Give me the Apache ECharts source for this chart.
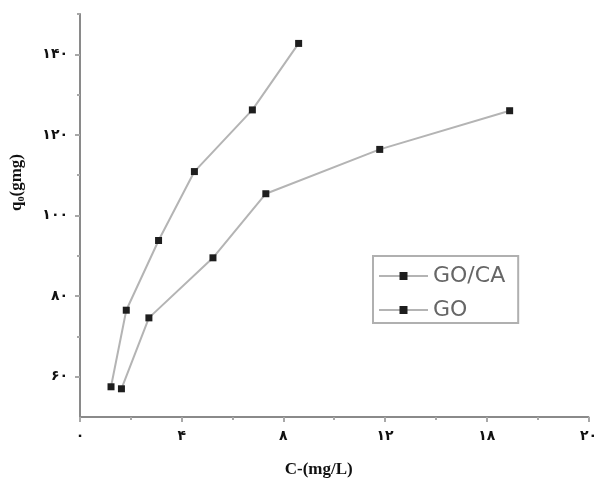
<!DOCTYPE html>
<html>
<head>
<meta charset="utf-8">
<script src="https://cdn.jsdelivr.net/npm/echarts@6/dist/echarts.min.js"></script>
<style>html,body{margin:0;padding:0;background:#fff;}#c{width:600px;height:490px;}</style>
</head>
<body>
<div id="c"></div>
<script>
// Data
const seriesNames = ['GO/CA', 'GO'];
const xGOCA = [1.22, 1.82, 3.09, 4.50, 6.78, 8.60];
const yGOCA = [57.5, 76.5, 93.8, 110.9, 126.2, 142.7];
const xGO = [1.63, 2.71, 5.23, 7.31, 11.79, 16.90];
const yGO = [57.0, 74.6, 89.5, 105.4, 116.4, 126.0];
const xTickValues = [0, 4, 8, 12, 16, 20];
const xTickLabels = ['۰', '۴', '۸', '۱۲', '۱۸', '۲۰'];
const yTickValues = [60, 80, 100, 120, 140];
const yTickLabels = ['۶۰', '۸۰', '۱۰۰', '۱۲۰', '۱۴۰'];
const yMinorValues = [70, 90, 110, 130, 150];

const zip = (xs, ys) => xs.map((x, i) => [x, ys[i]]);

const chart = echarts.init(document.getElementById('c'), null, {renderer: 'canvas'});
const axisColor = '#8a8a8a';
const tickColor = '#a8a8a8';
const labelStyle = {fontFamily: 'DejaVu Sans', fontWeight: 'bold', fontSize: 14, color: '#111'};

chart.setOption({
  animation: false,
  backgroundColor: '#fff',
  grid: {left: 80, right: 11, top: 14, bottom: 73},
  legend: {
    left: 373, top: 256,
    orient: 'vertical',
    padding: [9, 13, 2, 5],
    itemGap: 12,
    itemWidth: 49, itemHeight: 10,
    borderColor: '#b0b0b0', borderWidth: 2,
    textStyle: {fontFamily: 'DejaVu Sans', fontSize: 22, color: '#666'},
    data: seriesNames
  },
  xAxis: {
    type: 'value', min: 0, max: 20, interval: 4,
    name: 'C-(mg/L)', nameLocation: 'middle', nameGap: 44,
    nameTextStyle: {fontFamily: 'Liberation Serif', fontWeight: 'bold', fontSize: 17, color: '#111', padding: [0, 31, 0, 0]},
    axisLine: {show: true, lineStyle: {color: axisColor, width: 2}},
    axisTick: {show: true, length: 5, lineStyle: {color: tickColor, width: 2}},
    minorTick: {show: true, splitNumber: 2, length: 3, lineStyle: {color: tickColor, width: 2}},
    splitLine: {show: false},
    axisLabel: Object.assign({margin: 12, formatter: v => {const i = xTickValues.indexOf(v); return i >= 0 ? xTickLabels[i] : '';}}, labelStyle)
  },
  yAxis: [{
    type: 'value', min: 50, max: 150, interval: 10,
    name: 'q₀(gmg)', nameLocation: 'middle', nameGap: 55, nameRotate: 90,
    nameTextStyle: {fontFamily: 'Liberation Serif', fontWeight: 'bold', fontSize: 17, color: '#111', padding: [0, 0, 0, 66]},
    axisLine: {show: true, lineStyle: {color: axisColor, width: 2}},
    axisTick: {show: true, length: 5, customValues: yTickValues, lineStyle: {color: tickColor, width: 2}},
    splitLine: {show: false},
    axisLabel: Object.assign({margin: 12, customValues: yTickValues, formatter: v => {const i = yTickValues.indexOf(v); return i >= 0 ? yTickLabels[i] : '';}}, labelStyle)
  }, {
    type: 'value', min: 50, max: 150, interval: 10, position: 'left',
    axisLine: {show: false},
    axisTick: {show: true, length: 3, customValues: yMinorValues, lineStyle: {color: tickColor, width: 2}},
    axisLabel: {show: false},
    splitLine: {show: false}
  }],
  series: [{
    name: seriesNames[0], type: 'line', yAxisIndex: 0,
    data: zip(xGOCA, yGOCA),
    symbol: 'rect', symbolSize: 7,
    lineStyle: {color: '#b4b4b4', width: 2},
    itemStyle: {color: '#1e1e1e'}
  }, {
    name: seriesNames[1], type: 'line', yAxisIndex: 0,
    data: zip(xGO, yGO),
    symbol: 'rect', symbolSize: 7,
    lineStyle: {color: '#b4b4b4', width: 2},
    itemStyle: {color: '#1e1e1e'}
  }]
});
</script>
</body>
</html>
